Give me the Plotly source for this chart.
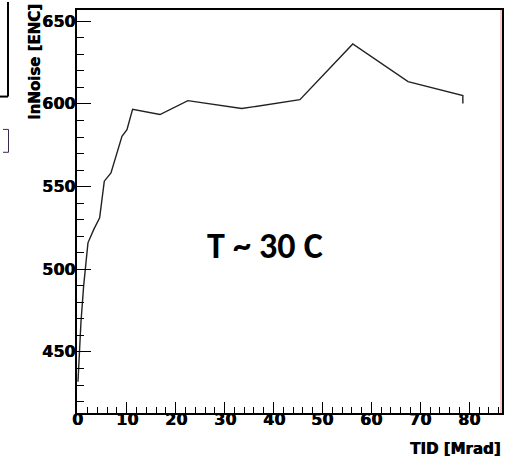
import plotly.graph_objects as go

# Data
tid_mrad = [0.04, 0.65, 1.2, 2.08, 3.25, 4.47, 5.42, 6.78, 9.03, 10.05, 11.2,
            16.8, 22.5, 33.5, 45.4, 56.2, 67.5, 78.7, 78.7]
ln_noise = [432, 468, 490, 516, 524, 531.2, 553.3, 558.3, 580.4, 584.4, 596.8,
            593.6, 602, 597.2, 602.6, 636.3, 613.5, 605, 600.2]

x_ticks = [0, 10, 20, 30, 40, 50, 60, 70, 80]
y_ticks = [450, 500, 550, 600, 650]

x_title = "TID [Mrad]"
y_title = "lnNoise [ENC]"
note = "T ~ 30 C"

W, H = 512, 458
L, R, T, B = 77, 10, 8, 45
PW, PH = W - L - R, H - T - B


def px(xp):
    return (xp - L) / PW


def py(yp):
    return (H - B - yp) / PH


heavy = "0.6px 0 0 black"
labfont = dict(family="DejaVu Sans", size=16, color="black", weight=700, shadow=heavy)
titfont = dict(family="DejaVu Sans", size=15, color="black", weight=700, shadow=heavy)

fig = go.Figure()
fig.add_trace(go.Scatter(x=tid_mrad, y=ln_noise, mode="lines",
                         line=dict(color="#222222", width=1.4),
                         showlegend=False, hoverinfo="skip"))

fig.update_layout(
    width=W, height=H,
    margin=dict(l=L, r=R, t=T, b=B, pad=0),
    paper_bgcolor="white", plot_bgcolor="white",
    xaxis=dict(range=[-0.16, 86.7], showgrid=False, zeroline=False,
               showline=True, linecolor="black", linewidth=1.5, mirror=True,
               ticks="inside", tickmode="array", tickvals=x_ticks,
               showticklabels=False,
               ticklen=11, tickwidth=1, tickcolor="black",
               minor=dict(dtick=2, tick0=0, ticks="inside", ticklen=6, tickwidth=1,
                          tickcolor="black", showgrid=False)),
    yaxis=dict(range=[413.1, 656.8], showgrid=False, zeroline=False,
               showline=True, linecolor="black", linewidth=1.5, mirror=True,
               ticks="inside", tickmode="array", tickvals=y_ticks,
               showticklabels=False,
               ticklen=14, tickwidth=1, tickcolor="black",
               minor=dict(dtick=10, tick0=0, ticks="inside", ticklen=7, tickwidth=1,
                          tickcolor="black", showgrid=False)),
)

# Tick labels placed on the axes' own scales
for v in x_ticks:
    fig.add_annotation(text=f"<b>{v}</b>", xref="x", yref="paper",
                       x=v, y=py(419.5), xanchor="center", yanchor="middle",
                       showarrow=False, font=labfont)
for v in y_ticks:
    fig.add_annotation(text=f"<b>{v}</b>", xref="paper", yref="y",
                       x=px(76.5), y=v, xanchor="right", yanchor="middle",
                       showarrow=False, font=labfont)

# Axis titles (ROOT style, aligned to the axis ends)
fig.add_annotation(text=f"<b>{x_title}</b>", xref="paper", yref="paper",
                   x=1.0, y=py(449), xanchor="right", yanchor="middle",
                   showarrow=False, font=titfont)
fig.add_annotation(text=f"<b>{y_title}</b>", xref="paper", yref="paper",
                   x=px(35), y=py(60), xanchor="center", yanchor="middle",
                   textangle=-90, showarrow=False, font=titfont)

# In-plot label
fig.add_annotation(text=f"<b>{note}</b>", xref="paper", yref="paper",
                   x=px(265), y=py(245), xanchor="center", yanchor="middle",
                   showarrow=False,
                   font=dict(family="Carlito, Lato", size=36, color="black", weight=700))

# Faint red inner edge at the right frame
fig.add_shape(type="line", xref="paper", yref="paper",
              x0=px(501), x1=px(501), y0=0, y1=1,
              line=dict(color="rgba(230,80,80,0.6)", width=1))

# Cropped fragments at the left edge of the picture
fig.add_shape(type="line", xref="paper", yref="paper",
              x0=px(8), x1=px(8), y0=py(0), y1=py(95),
              line=dict(color="black", width=2))
fig.add_shape(type="line", xref="paper", yref="paper",
              x0=px(0), x1=px(8), y0=py(95), y1=py(95),
              line=dict(color="black", width=2))
fig.add_shape(type="path", xref="paper", yref="paper",
              path=f"M {px(3)} {py(128)} L {px(8.5)} {py(128)} L {px(8.5)} {py(151)} L {px(3)} {py(151)}",
              line=dict(color="#3b2a4e", width=1))

fig.write_html("out.html")
